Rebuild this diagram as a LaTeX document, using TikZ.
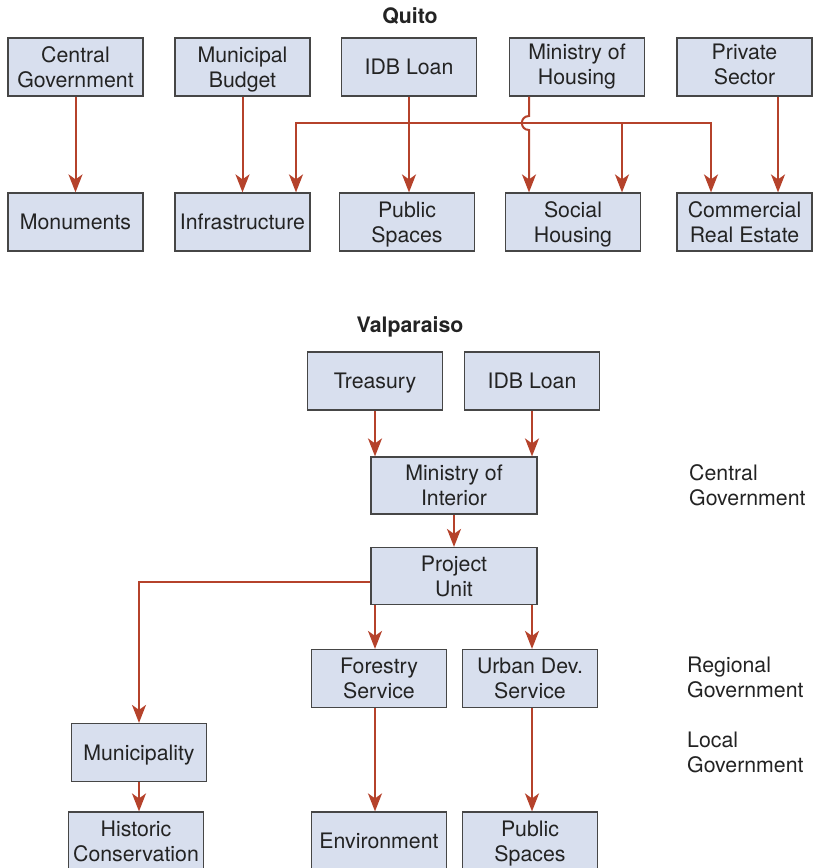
\documentclass[tikz,border=0pt]{standalone}
\usepackage{fontspec}
\setmainfont{TeX Gyre Heros}
\usetikzlibrary{positioning, arrows.meta}
\definecolor{boxfill}{RGB}{216,223,238}
\definecolor{boxline}{RGB}{70,70,70}
\definecolor{flow}{RGB}{181,66,43}
\definecolor{ink}{RGB}{35,35,35}

\begin{document}
\begin{tikzpicture}[
    x = 1pt, y = -1pt,
    >  = {Stealth[length=18pt, width=14pt, inset=5pt]},
    every node/.style = {font=\fontsize{21.3}{25}\selectfont, text=ink},
    unit/.style  = {rectangle, draw=boxline, line width=1.2pt, fill=boxfill,
                    minimum width=135pt, minimum height=58pt,
                    align=center, inner sep=2pt, text depth=0pt},
    high/.style  = {text depth=6pt},
    wide/.style  = {unit, minimum width=166pt, minimum height=57pt},
    title/.style = {font=\fontsize{21.3}{25}\selectfont\bfseries},
    tier/.style  = {anchor=west, align=left, inner sep=0pt},
    link/.style  = {draw=flow, line width=2pt},
    arr/.style   = {link, ->}
]
\path[use as bounding box, clip] (0,0) rectangle (813,868);

\node[title] (tq) at (410,16) {Quito};
\node[unit] (cg)   at (75.5,67)  {Central\\Government};
\node[unit] (mb)   at (242.5,67) {Municipal\\Budget};
\node[unit] (idbq) at (409,67)   {IDB Loan};
\node[unit, high] (mh) at (577,67)   {Ministry of\\Housing};
\node[unit, high] (ps) at (744.5,67) {Private\\Sector};

\node[unit] (mon)  at (75.5,222)  {Monuments};
\node[unit] (inf)  at (242.5,222) {Infrastructure};
\node[unit] (pubq) at (407,222)   {Public\\Spaces};
\node[unit] (sh)   at (573,222)   {Social\\Housing};
\node[unit] (cre)  at (744.5,222) {Commercial\\Real Estate};

\coordinate (bl)  at (296,123);
\coordinate (bm)  at (622,123);
\coordinate (br)  at (711,123);
\coordinate (hop) at (529,123);

\draw[arr] (cg) -- (mon);
\draw[arr] (mb) -- (inf);
\draw[arr] (idbq) -- (idbq |- pubq.north);
\draw[link, <->] (inf.north -| bl) -- (bl) -- (br) -- (cre.north -| br);
\draw[arr] (bm) -- (sh.north -| bm);
\draw[arr] (mh.south -| hop) -- ([yshift=7pt]hop)
    .. controls +(-9.5,0) and +(-9.5,0) .. ([yshift=-7pt]hop) -- (sh.north -| hop);
\draw[arr] ([xshift=33.5pt]ps.south) -- ([xshift=33.5pt]cre.north);

\node[title] (tv) at (410,327) {Valparaiso};
\node[unit] (tr)   at (375,381)   {Treasury};
\node[unit] (idbv) at (532,381)   {IDB Loan};
\node[wide] (mi)   at (454,485.5) {Ministry of\\Interior};
\node[wide] (pu)   at (454,576)   {Project\\Unit};
\node[unit] (fs)   at (379,678.5) {Forestry\\Service};
\node[unit] (ud)   at (530,678.5) {Urban Dev.\\Service};
\node[unit] (mun)  at (139,752.5) {Municipality};
\node[unit] (hc)   at (136,841)   {Historic\\Conservation};
\node[unit] (env)  at (379,841)   {Environment};
\node[unit] (pubv) at (530,841)   {Public\\Spaces};

\node[tier] (lc) at (689,485)   {Central\\Government};
\node[tier] (lr) at (687,677.5) {Regional\\Government};
\node[tier] (ll) at (687,752.5) {Local\\Government};

\draw[arr] (tr) -- (tr |- mi.north);
\draw[arr] (idbv) -- (idbv |- mi.north);
\draw[arr] (mi) -- (pu);
\draw[arr] (pu.south -| tr) -- (fs.north -| tr);
\draw[arr] (pu.south -| idbv) -- (ud.north -| idbv);
\draw[arr] ([yshift=-6pt]pu.west) -| (mun);
\draw[arr] (mun) -- (mun |- hc.north);
\draw[arr] (fs.south -| tr) -- (env.north -| tr);
\draw[arr] (ud.south -| idbv) -- (pubv.north -| idbv);
\end{tikzpicture}
\end{document}
